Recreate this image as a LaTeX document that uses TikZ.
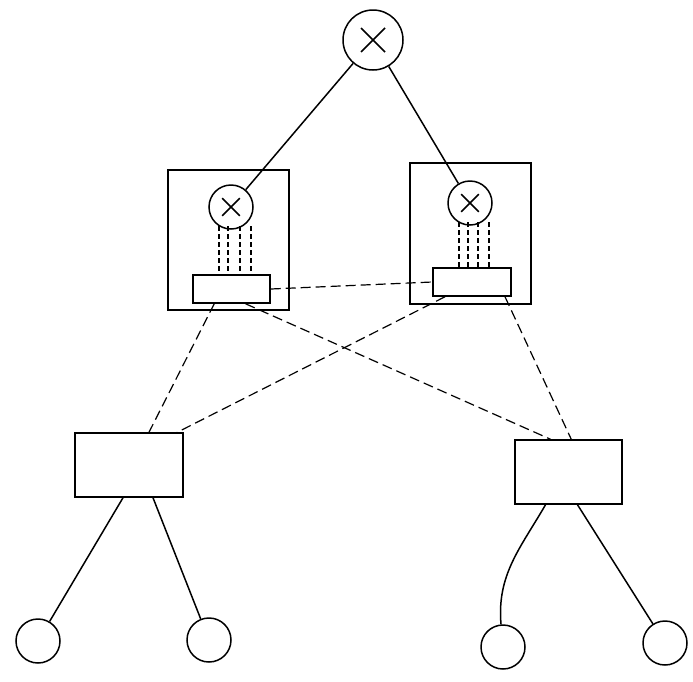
\documentclass[tikz,border=0pt]{standalone}
\begin{document}
\begin{tikzpicture}[x=1pt,y=-1pt,
  ln/.style={line width=1.5pt},
  dl/.style={line width=1.2pt,dash pattern=on 10pt off 5pt},
  xc/.style={circle,draw,line width=1.5pt,minimum size=#1pt,inner sep=0pt,path picture={\draw[line width=1.5pt] (path picture bounding box.north west)++(0.3*#1pt,-0.3*#1pt) -- ++(0.4*#1pt,-0.4*#1pt) ++(-0.4*#1pt,0) -- ++(0.4*#1pt,0.4*#1pt);}},
  lf/.style={circle,draw,line width=1.5pt,minimum size=44pt,inner sep=0pt}]
\useasboundingbox (0,0) rectangle (693,681);
\draw[ln] (168,170) rectangle (289,310);
\draw[ln] (410,163) rectangle (531,304);
\node[xc=60] (top) at (373,40) {};
\node[xc=44] (cl) at (231,207) {};
\node[xc=44] (cr) at (470,203) {};
\node[draw,ln,minimum width=77pt,minimum height=28pt,inner sep=0pt] (rl) at (231.5,289) {};
\node[draw,ln,minimum width=78pt,minimum height=28pt,inner sep=0pt] (rr) at (472,282) {};
\node[draw,ln,minimum width=108pt,minimum height=64pt,inner sep=0pt] (bl) at (129,465) {};
\node[draw,ln,minimum width=107pt,minimum height=64pt,inner sep=0pt] (br) at (568.5,472) {};
\node[lf] (l1) at (38,641) {};
\node[lf] (l2) at (209,640) {};
\node[lf] (l3) at (503,647) {};
\node[lf] (l4) at (665,643) {};
\draw[ln] (top) -- (cl);
\draw[ln] (top) -- (cr);
\foreach \x in {219,228,240,251} \draw[dl,dash pattern=on 5pt off 3pt] (\x,226) -- (\x,275);
\foreach \x in {459,468,478,489} \draw[dl,dash pattern=on 5pt off 3pt] (\x,222) -- (\x,268);
\draw[dl] (rl.east) -- (rr.west);
\draw[dl] (rl.south west)++(22,0) -- ([xshift=20pt]bl.north);
\draw[dl] (rl.south)++(14,0) -- ([xshift=-18pt]br.north);
\draw[dl] (rr.south)++(-27,0) -- ([xshift=103pt]bl.north west);
\draw[dl] (rr.south)++(33,0) -- ([xshift=57pt]br.north west);
\draw[ln] ([xshift=-6pt]bl.south) -- (l1);
\draw[ln] ([xshift=24pt]bl.south) -- (l2);
\draw[ln] ([xshift=-23pt]br.south) to[out=240,in=95] (l3);
\draw[ln] ([xshift=9pt]br.south) -- (l4);
\end{tikzpicture}
\end{document}
